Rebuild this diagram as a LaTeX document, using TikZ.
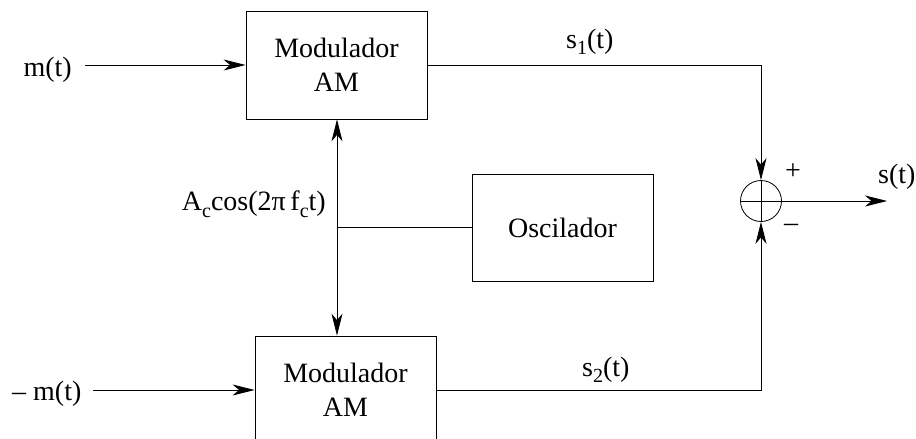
\documentclass[tikz,border=0pt]{standalone}
\usepackage{fontspec}
\setmainfont{Liberation Serif}
\usetikzlibrary{arrows.meta,calc}
% lowered, smaller index for signal names (s_1, A_c, f_c)
\newcommand\lowidx[2][7pt]{\raisebox{-#1}{\fontsize{20}{20}\selectfont #2}}

\begin{document}
\begin{tikzpicture}[x=1pt,y=-1pt,
  every node/.style={font=\fontsize{28}{34}\selectfont, inner sep=0pt},
  wire/.style={line width=0.8pt},
  block/.style={draw, wire, minimum width=181pt, minimum height=108pt, align=center},
  sig/.style={wire, -{Stealth[length=22pt,width=11pt,inset=6.5pt]}},
  ]
\useasboundingbox (0,0) rectangle (916,439);
\clip (0,0) rectangle (916,439);

% blocks
\node[block] (mod1) at (336.5,65) {Modulador\\AM};
\node[block] (mod2) at (345.5,390) {Modulador\\AM};
\node[block, minimum height=107pt] (osc) at (562.5,227.5) {Oscilador};
\node[draw, wire, circle, minimum size=41pt] (sum) at (761,201) {};
\draw[wire] (sum.north) -- (sum.south) (sum.west) -- (sum.east);

% labels
\node[anchor=base east] (lm) at (72,76) {m(t)};
\node[anchor=base west] (lnm) at (12,400) {– m(t)};
\node[anchor=base east] (lcar) at (326,210) {A\lowidx{c}cos(2π\,f\lowidx{c}t)};
\node[anchor=base west] (ls1) at (566,48) {s\lowidx[6pt]{1}(t)};
\node[anchor=base west] (ls2) at (582,376) {s\lowidx[6pt]{2}(t)};
\node[anchor=base west] (ls) at (878,183) {s(t)};
\node (plus) at (793,172) {+};
\node (minus) at (791,228) {–};

% connectors
\coordinate (min) at (85,65);
\coordinate (nmin) at (93,390);
\coordinate (j) at (337,228);
\coordinate (out) at (887,201);
\draw[sig] (min) -- (mod1.west);
\draw[sig] (nmin) -- (mod2.west);
\draw[wire] (osc.west) -- (osc.west -| j);
\draw[sig] (j) -- (j |- mod1.south);
\draw[sig] (j) -- (j |- mod2.north);
\draw[sig] (mod1.east) -| (sum.north);
\draw[sig] (mod2.east) -| (sum.south);
\draw[sig] (sum.east) -- (out);
\end{tikzpicture}
\end{document}
